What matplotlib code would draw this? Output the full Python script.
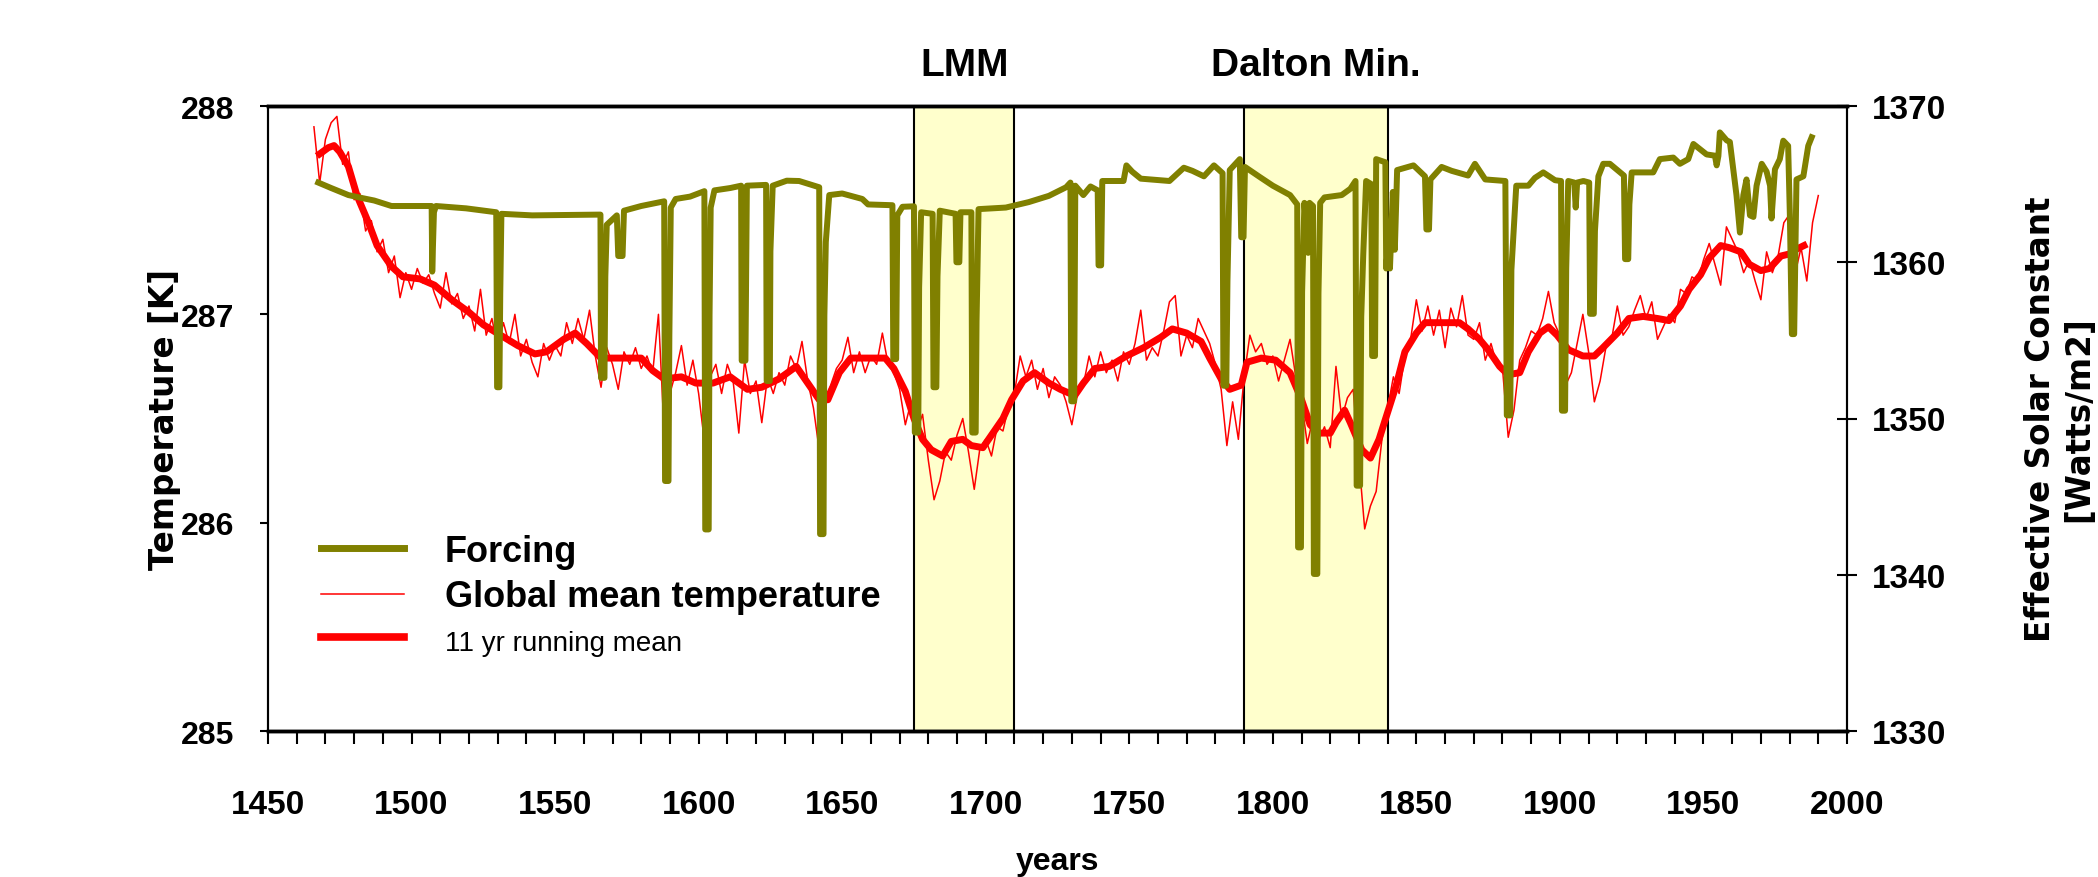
import numpy as np
import matplotlib
matplotlib.use("Agg")
import matplotlib.pyplot as plt
from matplotlib.lines import Line2D
from matplotlib.transforms import blended_transform_factory

plt.rcParams['font.family'] = ['Liberation Sans', 'DejaVu Sans']

# ---------------- data ----------------
# annual-ish global mean temperature [K], every 2 years starting 1466
temp_start = 1466
temp_step = 2
temp_annual = [
    287.90, 287.63, 287.84, 287.92, 287.95, 287.72, 287.78, 287.55, 287.58, 287.40,
    287.45, 287.30, 287.36, 287.20, 287.28, 287.08, 287.20, 287.12, 287.22, 287.15,
    287.19, 287.10, 287.03, 287.20, 287.05, 287.10, 286.98, 287.04, 286.92, 287.12,
    286.90, 286.98, 286.84, 286.96, 286.86, 287.00, 286.80, 286.88, 286.77, 286.70,
    286.86, 286.78, 286.85, 286.80, 286.96, 286.86, 286.98, 286.88, 287.02, 286.80,
    286.65, 286.84, 286.76, 286.64, 286.82, 286.76, 286.84, 286.74, 286.80, 286.72,
    287.00, 286.43, 286.62, 286.72, 286.85, 286.66, 286.78, 286.62, 286.39, 286.70,
    286.76, 286.62, 286.76, 286.68, 286.43, 286.78, 286.62, 286.68, 286.48, 286.70,
    286.62, 286.72, 286.66, 286.80, 286.74, 286.87, 286.68, 286.55, 286.35, 286.60,
    286.66, 286.74, 286.78, 286.89, 286.72, 286.82, 286.72, 286.80, 286.76, 286.91,
    286.76, 286.72, 286.64, 286.47, 286.58, 286.44, 286.52, 286.30, 286.11, 286.20,
    286.34, 286.30, 286.42, 286.50, 286.34, 286.16, 286.36, 286.40, 286.32, 286.46,
    286.44, 286.56, 286.62, 286.80, 286.70, 286.78, 286.64, 286.74, 286.60, 286.70,
    286.66, 286.58, 286.47, 286.62, 286.66, 286.80, 286.70, 286.82, 286.72, 286.78,
    286.68, 286.82, 286.76, 286.86, 287.02, 286.78, 286.84, 286.80, 286.92, 287.06,
    287.09, 286.80, 286.90, 286.84, 286.98, 286.92, 286.86, 286.76, 286.64, 286.37,
    286.58, 286.40, 286.70, 286.90, 286.82, 286.86, 286.76, 286.80, 286.68, 286.78,
    286.88, 286.70, 286.58, 286.38, 286.50, 286.40, 286.46, 286.36, 286.75, 286.50,
    286.60, 286.64, 286.30, 285.97, 286.08, 286.15, 286.40, 286.55, 286.70, 286.62,
    286.80, 286.88, 287.07, 286.92, 287.04, 286.90, 287.02, 286.84, 287.03, 286.94,
    287.09, 286.90, 286.88, 286.96, 286.78, 286.86, 286.76, 286.74, 286.41, 286.54,
    286.78, 286.84, 286.92, 286.90, 286.98, 287.11, 286.96, 286.90, 286.66, 286.72,
    286.86, 287.00, 286.82, 286.58, 286.68, 286.84, 286.88, 287.04, 286.90, 286.94,
    287.02, 287.09, 286.98, 287.06, 286.88, 286.94, 287.00, 286.96, 287.12, 287.10,
    287.18, 287.16, 287.26, 287.34, 287.24, 287.14, 287.42, 287.36, 287.30, 287.20,
    287.26, 287.16, 287.07, 287.30, 287.20, 287.28, 287.44, 287.48, 287.20, 287.32,
    287.16, 287.44, 287.57,
]

# 11 yr running mean [K]
rm_years = [
    1468, 1471, 1473, 1475, 1478, 1481, 1485, 1488, 1493, 1497,
    1503, 1508, 1514, 1520, 1525, 1531, 1537, 1543, 1547, 1553,
    1557, 1561, 1566, 1572, 1580, 1584, 1588, 1594, 1599, 1605,
    1611, 1617, 1622, 1628, 1634, 1638, 1642, 1645, 1649, 1653,
    1659, 1665, 1668, 1672, 1675, 1678, 1681, 1685, 1688, 1692,
    1695, 1699, 1702, 1706, 1709, 1713, 1717, 1722, 1726, 1731,
    1734, 1738, 1743, 1749, 1755, 1761, 1765, 1770, 1775, 1778,
    1782, 1785, 1789, 1791, 1796, 1801, 1806, 1810, 1813, 1816,
    1820, 1822, 1825, 1827, 1831, 1834, 1837, 1840, 1843, 1846,
    1850, 1853, 1859, 1865, 1868, 1872, 1875, 1879, 1882, 1886,
    1889, 1893, 1896, 1899, 1903, 1908, 1912, 1915, 1920, 1924,
    1929, 1934, 1938, 1942, 1945, 1949, 1952, 1956, 1959, 1963,
    1966, 1970, 1973, 1977, 1980, 1982, 1985,
]
rm_vals = [
    287.77, 287.80, 287.81, 287.78, 287.71, 287.57, 287.44, 287.33, 287.23, 287.18,
    287.17, 287.14, 287.07, 287.01, 286.95, 286.90, 286.85, 286.81, 286.82, 286.88,
    286.91, 286.86, 286.79, 286.79, 286.79, 286.73, 286.69, 286.70, 286.67, 286.67,
    286.70, 286.64, 286.65, 286.69, 286.75, 286.67, 286.59, 286.59, 286.72, 286.79,
    286.79, 286.79, 286.74, 286.63, 286.50, 286.40, 286.35, 286.32, 286.39, 286.40,
    286.37, 286.36, 286.42, 286.50, 286.59, 286.68, 286.72, 286.67, 286.64, 286.61,
    286.67, 286.74, 286.75, 286.80, 286.84, 286.89, 286.93, 286.91, 286.87, 286.79,
    286.69, 286.64, 286.66, 286.77, 286.79, 286.78, 286.72, 286.59, 286.47, 286.43,
    286.43, 286.48, 286.54, 286.48, 286.35, 286.31, 286.40, 286.53, 286.66, 286.82,
    286.91, 286.96, 286.96, 286.96, 286.93, 286.88, 286.83, 286.75, 286.71, 286.72,
    286.82, 286.91, 286.94, 286.90, 286.83, 286.80, 286.80, 286.84, 286.91, 286.98,
    286.99, 286.98, 286.97, 287.04, 287.12, 287.19, 287.27, 287.33, 287.32, 287.30,
    287.24, 287.21, 287.22, 287.28, 287.29, 287.31, 287.33,
]

# effective solar constant forcing [W/m2]
forcing_years = [
    1467.5, 1472, 1478, 1483, 1487, 1493, 1507, 1507.2, 1507.8, 1508.5,
    1519, 1529.5, 1529.8, 1530.6, 1530.9, 1531.3, 1542, 1565.8, 1566, 1567.2,
    1567.5, 1568, 1571.5, 1572, 1573.5, 1574, 1580, 1588, 1588.3, 1589.5,
    1589.8, 1590.3, 1592, 1597, 1602, 1602.3, 1603.5, 1603.8, 1604.2, 1605.5,
    1611, 1614.8, 1615, 1616.3, 1616.8, 1623.5, 1623.7, 1624.8, 1625, 1625.8,
    1630.7, 1635, 1642, 1642.3, 1643.5, 1643.8, 1644.3, 1645.5, 1650, 1657,
    1659, 1667.5, 1667.8, 1668.8, 1669.2, 1671, 1675, 1675.3, 1676.5, 1676.8,
    1677.5, 1681.5, 1681.8, 1682.8, 1683.2, 1684, 1689.5, 1689.8, 1690.8, 1691.2,
    1695, 1695.3, 1696.5, 1696.8, 1697.5, 1707, 1715, 1722, 1728, 1729.5,
    1729.8, 1730.8, 1731.2, 1734, 1736.5, 1739, 1739.3, 1740.2, 1740.6, 1748,
    1749, 1751, 1754, 1764, 1769, 1772, 1776, 1779.5, 1782.5, 1782.8,
    1783.8, 1784.2, 1785, 1786.5, 1788.5, 1789, 1789.8, 1790.3, 1795.5, 1800,
    1806, 1808.5, 1808.8, 1809.8, 1810.2, 1811, 1812.3, 1812.8, 1814, 1814.3,
    1815.5, 1815.9, 1816.5, 1818, 1824, 1827, 1828.8, 1829.2, 1830.4, 1830.8,
    1831.5, 1832.5, 1834.3, 1834.6, 1835.6, 1836, 1839.2, 1839.5, 1840.4, 1840.8,
    1841.8, 1842.5, 1843.3, 1849, 1853, 1853.5, 1854.4, 1854.9, 1858.8, 1862.3,
    1868, 1870.4, 1874, 1881, 1881.5, 1882.7, 1883.1, 1884, 1884.8, 1889,
    1891.3, 1894.2, 1898.3, 1900.4, 1900.7, 1901.8, 1902.2, 1902.9, 1905, 1905.5,
    1906, 1908.2, 1910.2, 1910.5, 1911.8, 1912.2, 1913.4, 1915.1, 1917.4, 1922.3,
    1922.7, 1923.8, 1924.2, 1925, 1932.5, 1934.8, 1939.5, 1941.8, 1944.7, 1946.5,
    1951.1, 1954, 1954.6, 1955.2, 1955.7, 1958.1, 1959.2, 1960.4, 1961.5, 1962.7,
    1963.9, 1965, 1966.2, 1967.4, 1968.5, 1970.3, 1972, 1973.2, 1973.7, 1974.9,
    1976.6, 1977.8, 1979.5, 1980.1, 1980.8, 1981.6, 1982.4, 1984.8, 1986.5, 1987.7,
]
forcing_vals = [
    1365.1, 1364.75, 1364.3, 1364.1, 1363.95, 1363.6, 1363.6, 1359.4, 1363.2, 1363.6,
    1363.45, 1363.2, 1352.0, 1352.0, 1358.0, 1363.1, 1363.0, 1363.05, 1352.6, 1352.6,
    1359.1, 1362.4, 1363.0, 1360.4, 1360.4, 1363.3, 1363.6, 1363.9, 1346.0, 1346.0,
    1355.3, 1363.5, 1364.05, 1364.2, 1364.55, 1342.9, 1342.9, 1356.6, 1363.5, 1364.6,
    1364.75, 1364.9, 1353.7, 1353.7, 1364.9, 1364.95, 1352.4, 1352.4, 1360.7, 1364.9,
    1365.22, 1365.2, 1364.8, 1342.6, 1342.6, 1356.6, 1361.3, 1364.3, 1364.4, 1364.05,
    1363.7, 1363.65, 1353.8, 1353.8, 1363.0, 1363.55, 1363.58, 1349.1, 1349.1, 1358.4,
    1363.2, 1363.1, 1352.0, 1352.0, 1359.1, 1363.3, 1363.1, 1360.0, 1360.0, 1363.2,
    1363.2, 1349.1, 1349.1, 1356.2, 1363.4, 1363.5, 1363.85, 1364.25, 1364.8, 1365.1,
    1351.1, 1351.1, 1364.9, 1364.3, 1364.85, 1364.6, 1359.8, 1359.8, 1365.2, 1365.2,
    1366.2, 1365.8, 1365.35, 1365.2, 1366.05, 1365.85, 1365.5, 1366.2, 1365.7, 1352.1,
    1352.1, 1358.8, 1365.9, 1366.2, 1366.6, 1361.6, 1361.6, 1366.1, 1365.45, 1364.9,
    1364.3, 1363.7, 1341.75, 1341.75, 1358.1, 1363.8, 1360.6, 1363.8, 1363.6, 1340.05,
    1340.05, 1358.0, 1363.8, 1364.15, 1364.3, 1364.7, 1365.2, 1345.7, 1345.7, 1356.5,
    1360.5, 1365.2, 1365.0, 1354.0, 1354.0, 1366.6, 1366.4, 1359.6, 1361.8, 1359.6,
    1364.5, 1360.8, 1365.9, 1366.2, 1365.5, 1362.1, 1362.1, 1365.3, 1366.1, 1365.85,
    1365.55, 1366.3, 1365.3, 1365.2, 1350.2, 1350.2, 1359.5, 1362.4, 1364.9, 1364.9,
    1365.4, 1365.75, 1365.25, 1365.2, 1350.5, 1350.5, 1359.6, 1365.2, 1365.1, 1363.5,
    1365.1, 1365.2, 1365.1, 1356.7, 1356.7, 1362.0, 1365.5, 1366.3, 1366.3, 1365.55,
    1360.2, 1360.2, 1363.7, 1365.75, 1365.75, 1366.6, 1366.7, 1366.3, 1366.6, 1367.57,
    1366.9, 1366.82, 1366.2, 1366.8, 1368.31, 1367.8, 1367.7, 1365.9, 1364.3, 1361.9,
    1364.3, 1365.3, 1363.0, 1362.9, 1364.9, 1366.3, 1365.8, 1364.9, 1362.8, 1365.95,
    1366.6, 1367.78, 1367.45, 1363.0, 1355.4, 1355.4, 1365.3, 1365.5, 1367.45, 1368.0,
]

# highlighted periods
period_names = ["LMM", "Dalton Min."]
period_start = [1675, 1790]
period_end = [1710, 1840]

# axis ticks
x_major = [1450, 1500, 1550, 1600, 1650, 1700, 1750, 1800, 1850, 1900, 1950, 2000]
x_minor = list(range(1450, 2001, 10))
temp_ticks = [285, 286, 287, 288]
solar_ticks = [1330, 1340, 1350, 1360, 1370]

# ---------------- figure ----------------
W, H = 2098, 878
fig = plt.figure(figsize=(W / 100, H / 100), dpi=100)
ax = fig.add_axes([268 / W, 1 - 732 / H, 1579 / W, 625 / H])
ax2 = ax.twinx()

OLIVE = "#808000"
RED = "#FF0000"
SPAN = "#FFFFCC"

for s, e in zip(period_start, period_end):
    ax.axvspan(s, e, facecolor=SPAN, edgecolor="black", linewidth=1.5, zorder=0)

trans = blended_transform_factory(ax.transData, ax.transAxes)
for name, s, e in zip(period_names, period_start, period_end):
    ax.text((s + e) / 2, 1.066, name, transform=trans, ha="center", va="center",
            fontsize=28, fontweight="bold")

temp_years = temp_start + temp_step * np.arange(len(temp_annual))
ax.plot(temp_years, temp_annual, color=RED, lw=1.1, zorder=2)
ax.plot(rm_years, rm_vals, color=RED, lw=5, zorder=3)
ax2.plot(forcing_years, forcing_vals, color=OLIVE, lw=4.3, zorder=4)

ax.set_xlim(1450, 2000)
ax.set_ylim(285, 288)
ax2.set_ylim(1330, 1370)

ax.set_xticks(x_major)
ax.set_xticks(x_minor, minor=True)
ax.tick_params(axis="x", which="both", direction="out", length=9.5, width=1.5,
               pad=32, labelsize=24)
ax.set_yticks(temp_ticks)
ax.tick_params(axis="y", direction="out", length=6, width=1.5, pad=18, labelsize=23)
ax2.set_yticks(solar_ticks)
ax2.tick_params(axis="y", direction="inout", length=14, width=1.5, pad=11, labelsize=24)
for lbl in ax.get_xticklabels() + ax.get_yticklabels() + ax2.get_yticklabels():
    lbl.set_fontweight("bold")

for a in (ax, ax2):
    a.spines["top"].set_linewidth(2.5)
    a.spines["bottom"].set_linewidth(2.5)
    a.spines["left"].set_linewidth(1.5)
    a.spines["right"].set_linewidth(1.5)

ax.set_xlabel("years", fontsize=23, fontweight="bold", labelpad=19)
ax.set_ylabel("Temperature [K]", fontsize=23.5, fontweight="bold",
              family="DejaVu Sans", labelpad=0)
ax2.set_ylabel("Effective Solar Constant\n[Watts/m2]", fontsize=23.5, fontweight="bold",
               family="DejaVu Sans", rotation=90, labelpad=56, multialignment="center")

handles = [Line2D([], [], color=OLIVE, lw=5),
           Line2D([], [], color=RED, lw=1.1),
           Line2D([], [], color=RED, lw=5.5)]
labels = ["Forcing", "Global mean temperature", "11 yr running mean"]
leg = ax.legend(handles, labels, loc="upper left", bbox_to_anchor=(0.0336, 0.315),
                frameon=False, borderpad=0, borderaxespad=0, handlelength=2.3,
                handletextpad=1.13, labelspacing=0.28,
                prop={"size": 26, "weight": "bold"})
texts = leg.get_texts()
texts[2].set_fontweight("normal")
texts[2].set_fontsize(20)

fig.savefig("out.png", dpi=100)
